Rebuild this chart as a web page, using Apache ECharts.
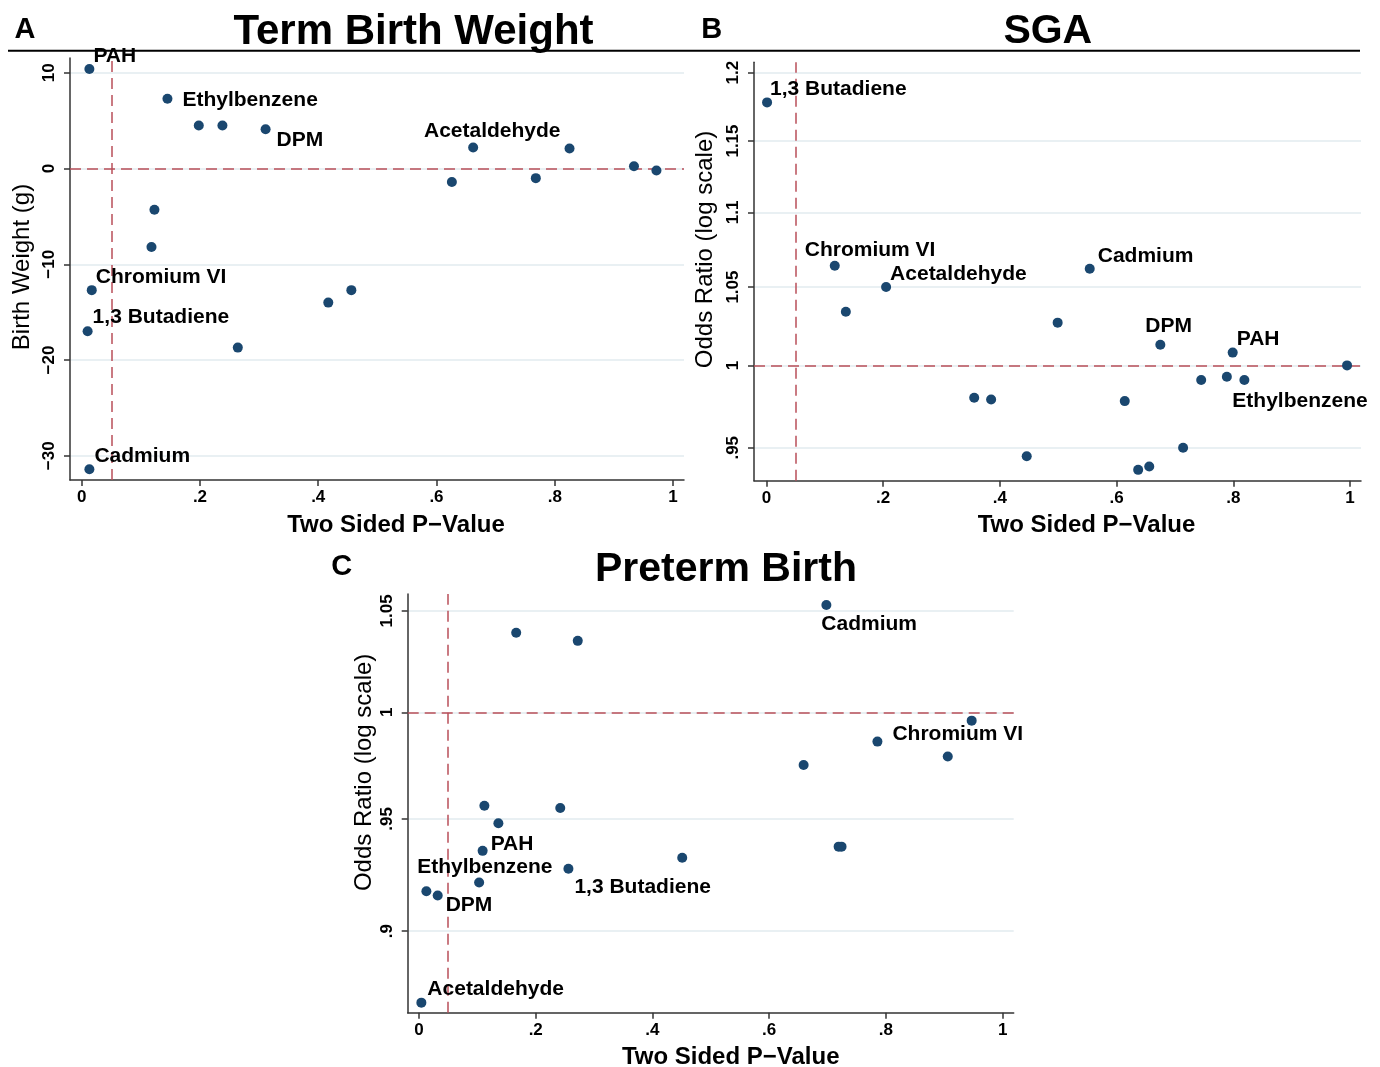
<!DOCTYPE html>
<html>
<head>
<meta charset="utf-8">
<script src="https://cdn.jsdelivr.net/npm/echarts@6/dist/echarts.min.js"></script>
<style>
html,body{margin:0;padding:0;background:#fff;}
#chart{width:1380px;height:1067px;}
</style>
</head>
<body>
<div id="chart"></div>
<script>
// ---------------- DATA ----------------
// Panel A: Term Birth Weight (two-sided p-value, change in birth weight in g)
const tbwPValue = [0.013, 0.145, 0.198, 0.238, 0.311, 0.662, 0.825, 0.934, 0.972, 0.626, 0.768, 0.123, 0.118, 0.017, 0.417, 0.456, 0.010, 0.264, 0.013];
const tbwEffect = [10.4, 7.3, 4.5, 4.5, 4.1, 2.2, 2.1, 0.25, -0.2, -1.4, -1.0, -4.3, -8.2, -12.7, -14.0, -12.7, -17.0, -18.7, -31.4];
const tbwName   = ['PAH', 'Ethylbenzene', '', '', 'DPM', '', 'Acetaldehyde', '', '', '', '', '', '', 'Chromium VI', '', '', '1,3 Butadiene', '', 'Cadmium'];

// Panel B: SGA (two-sided p-value, odds ratio)
const sgaPValue = [0.001, 0.117, 0.205, 0.136, 0.554, 0.499, 0.675, 0.799, 0.995, 0.745, 0.789, 0.819, 0.356, 0.385, 0.614, 0.714, 0.446, 0.656, 0.637];
const sgaOddsRatio = [1.178, 1.064, 1.050, 1.034, 1.062, 1.027, 1.013, 1.008, 1.000, 0.991, 0.993, 0.991, 0.980, 0.979, 0.978, 0.950, 0.945, 0.939, 0.937];
const sgaName   = ['1,3 Butadiene', 'Chromium VI', 'Acetaldehyde', '', 'Cadmium', '', 'DPM', 'PAH', '', '', '', 'Ethylbenzene', '', '', '', '', '', '', ''];

// Panel C: Preterm Birth (two-sided p-value, odds ratio)
const ptbPValue = [0.698, 0.1665, 0.272, 0.947, 0.7855, 0.906, 0.659, 0.112, 0.242, 0.136, 0.109, 0.719, 0.724, 0.451, 0.256, 0.103, 0.0126, 0.032, 0.004];
const ptbOddsRatio = [1.053, 1.039, 1.035, 0.996, 0.986, 0.979, 0.975, 0.956, 0.955, 0.948, 0.9355, 0.9374, 0.9374, 0.9324, 0.9275, 0.9214, 0.9175, 0.9156, 0.8696];
const ptbName   = ['Cadmium', '', '', '', 'Chromium VI', '', '', '', '', '', 'PAH', '', '', '', '1,3 Butadiene', 'Ethylbenzene', '', 'DPM', 'Acetaldehyde'];

// Ticks
const xTickValues = [0, 0.2, 0.4, 0.6, 0.8, 1];
const xTickLabels = ['0', '.2', '.4', '.6', '.8', '1'];
const tbwTickValues = [-30, -20, -10, 0, 10];
const tbwTickLabels = ['\u221230', '\u221220', '\u221210', '0', '10'];
const sgaTickValues = [0.95, 1, 1.05, 1.1, 1.15, 1.2];
const sgaTickLabels = ['.95', '1', '1.05', '1.1', '1.15', '1.2'];
const ptbTickValues = [0.9, 0.95, 1, 1.05];
const ptbTickLabels = ['.9', '.95', '1', '1.05'];

// Reference lines
const pThreshold = 0.05;
const tbwNull = 0;
const orNull = 1;

// Texts
const panelTitles = ['Term Birth Weight', 'SGA', 'Preterm Birth'];
const panelLetters = ['A', 'B', 'C'];
const xTitle = 'Two Sided P\u2212Value';
const yTitles = ['Birth Weight (g)', 'Odds Ratio (log scale)', 'Odds Ratio (log scale)'];

// ---------------- STYLE / LAYOUT ----------------
const FONT = '"Liberation Sans", Arial, Helvetica, sans-serif';
const DOT = '#1a476f';
const REF = '#b94f5a';
const GRIDC = '#e2ebef';
const AXC = '#333333';
const R = 5; // symbol radius

// label placement: [align, dx, dy] relative to point centre
const labelPlacement = {
  A: { 'PAH': ['left', 4, -13], 'Ethylbenzene': ['left', 15, 2], 'DPM': ['left', 11, 11], 'Acetaldehyde': ['right', -9, -17],
       'Chromium VI': ['left', 4, -13], '1,3 Butadiene': ['left', 5, -14], 'Cadmium': ['left', 5, -13] },
  B: { '1,3 Butadiene': ['left', 3, -13], 'Chromium VI': ['left', -30, -16], 'Acetaldehyde': ['left', 4, -13], 'Cadmium': ['left', 8, -13],
       'DPM': ['left', -15, -18], 'PAH': ['left', 4, -13], 'Ethylbenzene': ['left', -12, 21] },
  C: { 'Cadmium': ['left', -5, 19], 'Chromium VI': ['left', 15, -7], 'PAH': ['left', 8, -7], 'Ethylbenzene': ['left', -62, -15],
       'DPM': ['left', 8, 10], '1,3 Butadiene': ['left', 6, 18], 'Acetaldehyde': ['left', 6, -13] }
};

const grids = [
  { left: 70, top: 58, width: 614, height: 422 },
  { left: 754, top: 62.3, width: 607, height: 418.4 },
  { left: 407.7, top: 594, width: 606, height: 418.7 }
];
const xRanges = [[-0.0198, 1.0186], [-0.0214, 1.0189], [-0.0194, 1.019]];
const yRanges = [[-32.53, 11.55], [0.9307, 1.2078], [0.8654, 1.0586]];
const xNameShift = [19, 29, 20];
const yNameShift = [2, 22, 31];
const yNameGap = [36, 37, 31];

function fmt(vals, labels) {
  return function (v) {
    for (let i = 0; i < vals.length; i++) {
      if (Math.abs(vals[i] - v) < 1e-6) return labels[i];
    }
    return '';
  };
}

function xAxisCfg(i) {
  return {
    type: 'value', gridIndex: i, min: xRanges[i][0], max: xRanges[i][1],
    name: xTitle, nameLocation: 'middle', nameGap: 33,
    nameTextStyle: { fontFamily: FONT, fontWeight: 'bold', fontSize: 24, color: '#000', padding: [0, 0, 0, 2 * xNameShift[i]] },
    axisLine: { show: true, onZero: false, lineStyle: { color: AXC, width: 1.5 } },
    axisTick: { show: true, inside: false, length: 6, customValues: xTickValues, lineStyle: { color: AXC, width: 1.5 } },
    axisLabel: { show: true, customValues: xTickValues, formatter: fmt(xTickValues, xTickLabels), fontFamily: FONT, fontWeight: 'bold', fontSize: 17, color: '#000', margin: 9 },
    splitLine: { show: false }
  };
}

function yAxisCfg(i, type, vals, labels) {
  const cfg = {
    type: type, gridIndex: i, min: yRanges[i][0], max: yRanges[i][1],
    name: yTitles[i], nameLocation: 'middle', nameGap: yNameGap[i],
    nameTextStyle: { fontFamily: FONT, fontWeight: 'normal', fontSize: 24, color: '#000', padding: [0, 0, 0, 2 * yNameShift[i]] },
    axisLine: { show: true, onZero: false, lineStyle: { color: AXC, width: 1.5 } },
    axisTick: { show: true, inside: false, length: 6, customValues: vals, lineStyle: { color: AXC, width: 1.5 } },
    axisLabel: { show: true, customValues: vals, formatter: fmt(vals, labels), rotate: 90, fontFamily: FONT, fontWeight: 'bold', fontSize: 17, color: '#000', margin: 12 },
    splitLine: { show: true, lineStyle: { color: GRIDC, width: 1.5 } }
  };
  if (type === 'log') cfg.logBase = 10;
  return cfg;
}

function buildSeries(panel, i, xs, ys, names, refY) {
  return {
    type: 'scatter', xAxisIndex: i, yAxisIndex: i, symbol: 'circle', symbolSize: 2 * R, z: 3,
    itemStyle: { color: DOT, opacity: 1 },
    data: xs.map(function (x, k) {
      const item = { value: [x, ys[k]], name: names[k] };
      const pl = labelPlacement[panel][names[k]];
      if (pl) {
        item.label = {
          show: true, formatter: '{b}', position: [R + pl[1], R + pl[2]], align: pl[0], verticalAlign: 'middle',
          fontFamily: FONT, fontWeight: 'bold', fontSize: 21, color: '#000'
        };
      }
      return item;
    }),
    markLine: {
      silent: true, z: 1, symbol: ['none', 'none'], label: { show: false }, animation: false,
      lineStyle: { color: REF, type: [11, 6], width: 1.5 },
      emphasis: { disabled: true },
      data: [{ xAxis: pThreshold }, { yAxis: refY }]
    }
  };
}

const graphics = [
  { type: 'line', shape: { x1: 8, y1: 50.7, x2: 1360, y2: 50.7 }, style: { stroke: '#000', lineWidth: 2 } },
  { type: 'text', x: 25, y: 30, style: { text: panelLetters[0], font: 'bold 29px ' + FONT, fill: '#000', align: 'center', verticalAlign: 'middle' } },
  { type: 'text', x: 413.5, y: 32, style: { text: panelTitles[0], font: 'bold 42px ' + FONT, fill: '#000', align: 'center', verticalAlign: 'middle' } },
  { type: 'text', x: 711.7, y: 30, style: { text: panelLetters[1], font: 'bold 29px ' + FONT, fill: '#000', align: 'center', verticalAlign: 'middle' } },
  { type: 'text', x: 1047.8, y: 32, style: { text: panelTitles[1], font: 'bold 41px ' + FONT, fill: '#000', align: 'center', verticalAlign: 'middle' } },
  { type: 'text', x: 341.7, y: 567, style: { text: panelLetters[2], font: 'bold 29px ' + FONT, fill: '#000', align: 'center', verticalAlign: 'middle' } },
  { type: 'text', x: 726, y: 570, style: { text: panelTitles[2], font: 'bold 41px ' + FONT, fill: '#000', align: 'center', verticalAlign: 'middle' } }
];

const option = {
  backgroundColor: '#ffffff',
  animation: false,
  grid: grids.map(function (g) { return Object.assign({ containLabel: false, outerBoundsMode: 'none' }, g); }),
  xAxis: [xAxisCfg(0), xAxisCfg(1), xAxisCfg(2)],
  yAxis: [
    yAxisCfg(0, 'value', tbwTickValues, tbwTickLabels),
    yAxisCfg(1, 'log', sgaTickValues, sgaTickLabels),
    yAxisCfg(2, 'log', ptbTickValues, ptbTickLabels)
  ],
  series: [
    buildSeries('A', 0, tbwPValue, tbwEffect, tbwName, tbwNull),
    buildSeries('B', 1, sgaPValue, sgaOddsRatio, sgaName, orNull),
    buildSeries('C', 2, ptbPValue, ptbOddsRatio, ptbName, orNull)
  ],
  graphic: graphics
};

const chart = echarts.init(document.getElementById('chart'), null, { renderer: 'canvas' });
chart.setOption(option);
</script>
</body>
</html>
